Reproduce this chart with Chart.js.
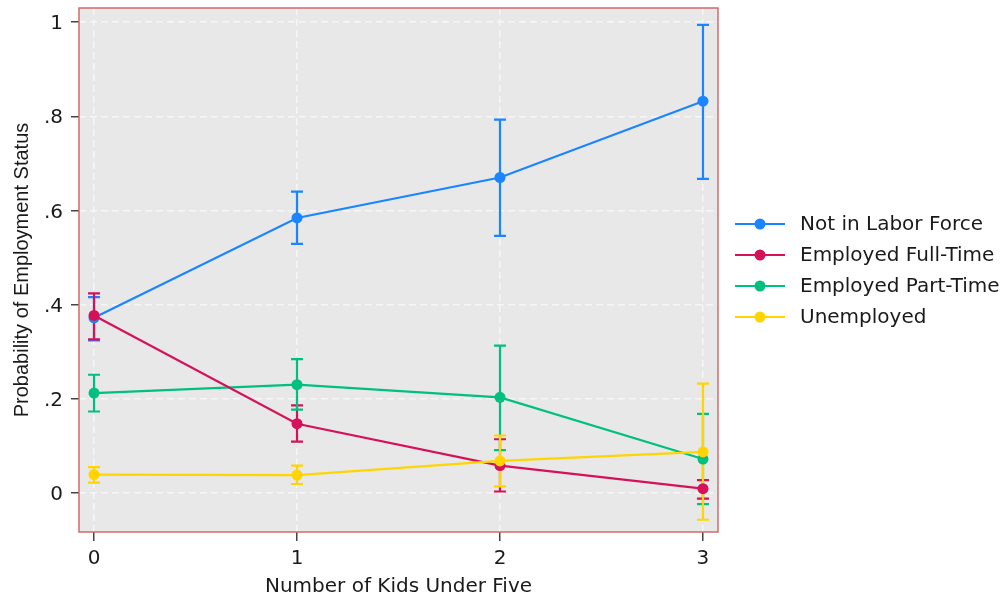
<!DOCTYPE html>
<html>
<head>
<meta charset="UTF-8">
<title>Employment status by kids under five</title>
<script src="https://cdn.jsdelivr.net/npm/chart.js@4.4.0/dist/chart.umd.min.js"></script>
<style>
  body { margin: 0; background: #ffffff; }
  #wrap { width: 1003px; height: 601px; }
</style>
</head>
<body>
<div id="wrap"><canvas id="chart" width="1003" height="601"></canvas></div>
<script>
// values
var kids = [0, 1, 2, 3];
var xTicks = [0, 1, 2, 3];
var yTicks = [0, 0.2, 0.4, 0.6, 0.8, 1];

var notInLabor   = [0.372, 0.584, 0.670, 0.832];
var notInLaborLo = [0.324, 0.529, 0.546, 0.667];
var notInLaborHi = [0.416, 0.640, 0.793, 0.994];

var fullTime   = [0.377, 0.147, 0.058, 0.009];
var fullTimeLo = [0.326, 0.109, 0.003, -0.012];
var fullTimeHi = [0.424, 0.186, 0.114, 0.027];

var partTime   = [0.212, 0.230, 0.203, 0.072];
var partTimeLo = [0.173, 0.177, 0.091, -0.024];
var partTimeHi = [0.251, 0.284, 0.313, 0.168];

var unemployed   = [0.039, 0.038, 0.068, 0.087];
var unemployedLo = [0.022, 0.019, 0.014, -0.057];
var unemployedHi = [0.055, 0.058, 0.122, 0.232];

var seriesNames = ['Not in Labor Force', 'Employed Full-Time', 'Employed Part-Time', 'Unemployed'];
var seriesColors = ['#1a85ff', '#d41159', '#00bf7f', '#ffd400'];
var seriesVals = [notInLabor, fullTime, partTime, unemployed];
var seriesLo = [notInLaborLo, fullTimeLo, partTimeLo, unemployedLo];
var seriesHi = [notInLaborHi, fullTimeHi, partTimeHi, unemployedHi];
var drawOrder = [3, 1, 2, 0]; // lower = drawn on top

var hFont = 'DejaVu Sans';
var vFont = 'Liberation Sans';

function pts(vals) {
    return kids.map(function (k, i) { return {x: k, y: vals[i]}; });
}

var datasets = seriesNames.map(function (name, i) {
    return {
        label: name,
        data: pts(seriesVals[i]),
        lo: seriesLo[i],
        hi: seriesHi[i],
        borderColor: seriesColors[i],
        backgroundColor: seriesColors[i],
        borderWidth: 2.2,
        pointRadius: 5.5,
        pointHoverRadius: 5.5,
        pointBorderWidth: 0,
        tension: 0,
        order: drawOrder[i]
    };
});

function fmtTick(v) {
    if (v === 0) return '0';
    return String(+v.toFixed(1)).replace(/^0\./, '.');
}

// plot region fill, frame, error bars and legend
var stataLook = {
    id: 'stataLook',
    beforeDraw: function (chart) {
        var a = chart.chartArea, ctx = chart.ctx;
        ctx.save();
        ctx.fillStyle = '#e8e8e8';
        ctx.fillRect(a.left, a.top, a.right - a.left, a.bottom - a.top);
        ctx.restore();
    },
    beforeDatasetsDraw: function (chart) {
        var ctx = chart.ctx, xs = chart.scales.x, ys = chart.scales.y;
        ctx.save();
        ctx.lineWidth = 2.2;
        chart.data.datasets.forEach(function (ds) {
            ctx.strokeStyle = ds.borderColor;
            ds.data.forEach(function (p, j) {
                var px = xs.getPixelForValue(p.x);
                var yl = ys.getPixelForValue(ds.lo[j]);
                var yh = ys.getPixelForValue(ds.hi[j]);
                ctx.beginPath();
                ctx.moveTo(px, yl); ctx.lineTo(px, yh);
                ctx.moveTo(px - 6, yl); ctx.lineTo(px + 6, yl);
                ctx.moveTo(px - 6, yh); ctx.lineTo(px + 6, yh);
                ctx.stroke();
            });
        });
        ctx.restore();
    },
    afterDraw: function (chart) {
        var a = chart.chartArea, ctx = chart.ctx;
        ctx.save();
        ctx.strokeStyle = '#d46a6a';
        ctx.lineWidth = 1.5;
        ctx.strokeRect(a.left, a.top, a.right - a.left, a.bottom - a.top);

        // legend
        var lx = 735, ly = 224, step = 31;
        ctx.font = '20px "' + hFont + '"';
        ctx.textBaseline = 'middle';
        chart.data.datasets.forEach(function (ds, i) {
            var y = ly + i * step;
            ctx.strokeStyle = ds.borderColor;
            ctx.fillStyle = ds.borderColor;
            ctx.lineWidth = 2.2;
            ctx.beginPath();
            ctx.moveTo(lx, y); ctx.lineTo(lx + 50, y);
            ctx.stroke();
            ctx.beginPath();
            ctx.arc(lx + 25, y, 5.5, 0, Math.PI * 2);
            ctx.fill();
            ctx.fillStyle = '#1a1a1a';
            ctx.fillText(ds.label, lx + 65, y + 1);
        });
        ctx.restore();
    }
};

var ctx = document.getElementById('chart').getContext('2d');
new Chart(ctx, {
    type: 'line',
    data: { datasets: datasets },
    plugins: [stataLook],
    options: {
        responsive: false,
        animation: false,
        layout: { padding: { left: 0, right: 285, top: 8, bottom: 0 } },
        plugins: { legend: { display: false }, tooltip: { enabled: false } },
        scales: {
            x: {
                type: 'linear',
                min: -0.074,
                max: 3.074,
                afterBuildTicks: function (s) { s.ticks = xTicks.map(function (v) { return {value: v}; }); },
                afterFit: function (s) { s.height = 69; s.paddingLeft = 0; s.paddingRight = 0; },
                grid: { color: '#f6f6f6', lineWidth: 1.5, tickLength: 9, tickColor: '#444', tickWidth: 1.5 },
                border: { display: false, dash: [7, 4] },
                ticks: {
                    padding: 6, color: '#1a1a1a', maxRotation: 0,
                    font: { family: hFont, size: 20 },
                    callback: function (v) { return String(v); }
                },
                title: {
                    display: true, text: 'Number of Kids Under Five', color: '#1a1a1a',
                    font: { family: hFont, size: 20 }, padding: { top: 0, bottom: 2 }
                }
            },
            y: {
                min: -0.083,
                max: 1.03,
                afterBuildTicks: function (s) { s.ticks = yTicks.map(function (v) { return {value: v}; }); },
                afterFit: function (s) { s.width = 79; s.paddingTop = 0; s.paddingBottom = 0; },
                grid: { color: '#f6f6f6', lineWidth: 1.5, tickLength: 8, tickColor: '#444', tickWidth: 1.5 },
                border: { display: false, dash: [7, 4] },
                ticks: {
                    padding: 8, color: '#1a1a1a', labelOffset: 2,
                    font: { family: hFont, size: 20 },
                    callback: function (v) { return fmtTick(v); }
                },
                title: {
                    display: true, text: 'Probability of Employment Status', color: '#1a1a1a',
                    font: { family: vFont, size: 20 }, padding: { top: 10, bottom: 0 }
                }
            }
        }
    }
});
</script>
</body>
</html>
